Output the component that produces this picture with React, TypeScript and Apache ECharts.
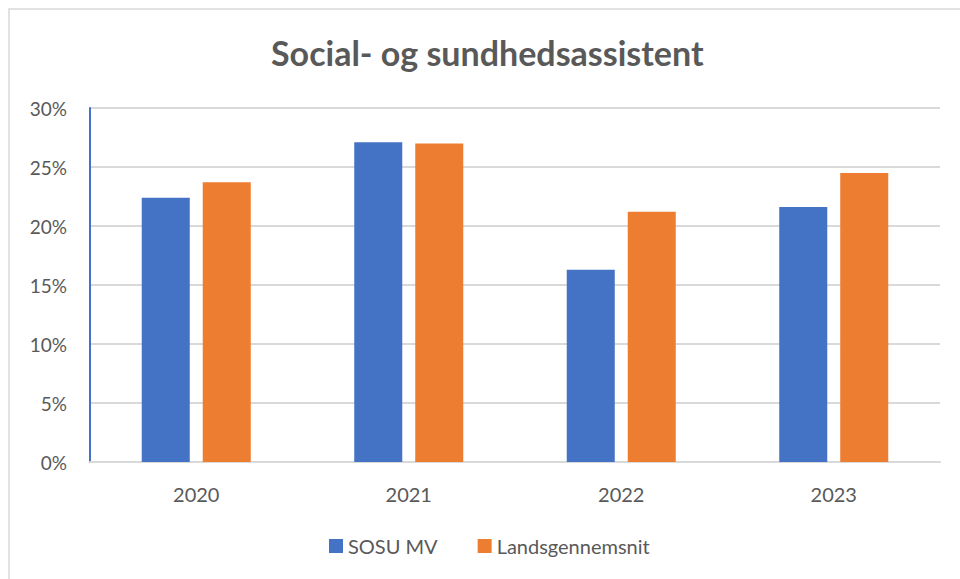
import React, { useEffect, useRef } from "react";
import * as echarts from "echarts";

const categories = ["2020", "2021", "2022", "2023"];
const sosuMV = [22.4, 27.1, 16.3, 21.6];
const landsgennemsnit = [23.7, 27.0, 21.2, 24.5];
const seriesNames = ["SOSU MV", "Landsgennemsnit"];
const titleText = "Social- og sundhedsassistent";

export default function App() {
  const ref = useRef<HTMLDivElement>(null);
  useEffect(() => {
    if (!ref.current) return;
    const chart = echarts.init(ref.current, undefined, { renderer: "svg" });
    const font = "Lato, 'Liberation Sans', sans-serif";
    chart.setOption({
      animation: false,
      backgroundColor: "#ffffff",
      textStyle: { fontFamily: font },
      graphic: [
        {
          type: "rect",
          shape: { x: 9, y: 9, width: 1000, height: 700 },
          style: { fill: "none", stroke: "#d9d9d9", lineWidth: 1.5 },
          silent: true,
          z: -1,
        },
      ],
      title: {
        text: titleText,
        left: 266,
        top: 30,
        textStyle: { fontFamily: font, fontSize: 34, fontWeight: "bold", color: "#595959" },
      },
      legend: {
        data: seriesNames,
        top: 531,
        left: 324,
        itemWidth: 14,
        itemHeight: 14,
        itemGap: 40,
        icon: "rect",
        textStyle: { fontFamily: font, fontSize: 20, color: "#595959" },
      },
      grid: { left: 90, right: 20, top: 108, bottom: 117, containLabel: false },
      xAxis: {
        type: "category",
        data: categories,
        axisLine: { show: true, lineStyle: { color: "#d9d9d9", width: 2 } },
        axisTick: { show: false },
        axisLabel: { margin: 22, fontSize: 20, color: "#595959", fontFamily: font },
      },
      yAxis: {
        type: "value",
        min: 0,
        max: 30,
        interval: 5,
        axisLine: { show: true, lineStyle: { color: "#4472C4", width: 2 } },
        axisTick: { show: false },
        splitLine: { show: true, lineStyle: { color: "#d9d9d9", width: 2 } },
        axisLabel: {
          formatter: "{value}%",
          margin: 23,
          fontSize: 19,
          color: "#595959",
          fontFamily: font,
        },
      },
      series: [
        {
          name: seriesNames[0],
          type: "bar",
          data: sosuMV,
          itemStyle: { color: "#4472C4" },
          barWidth: "22.6%",
          barGap: "27%",
        },
        {
          name: seriesNames[1],
          type: "bar",
          data: landsgennemsnit,
          itemStyle: { color: "#ED7D31" },
          barWidth: "22.6%",
          barGap: "27%",
        },
      ],
    });
    return () => chart.dispose();
  }, []);
  return (
    <div
      ref={ref}
      style={{ position: "absolute", left: 0, top: 0, width: 960, height: 579 }}
    />
  );
}
